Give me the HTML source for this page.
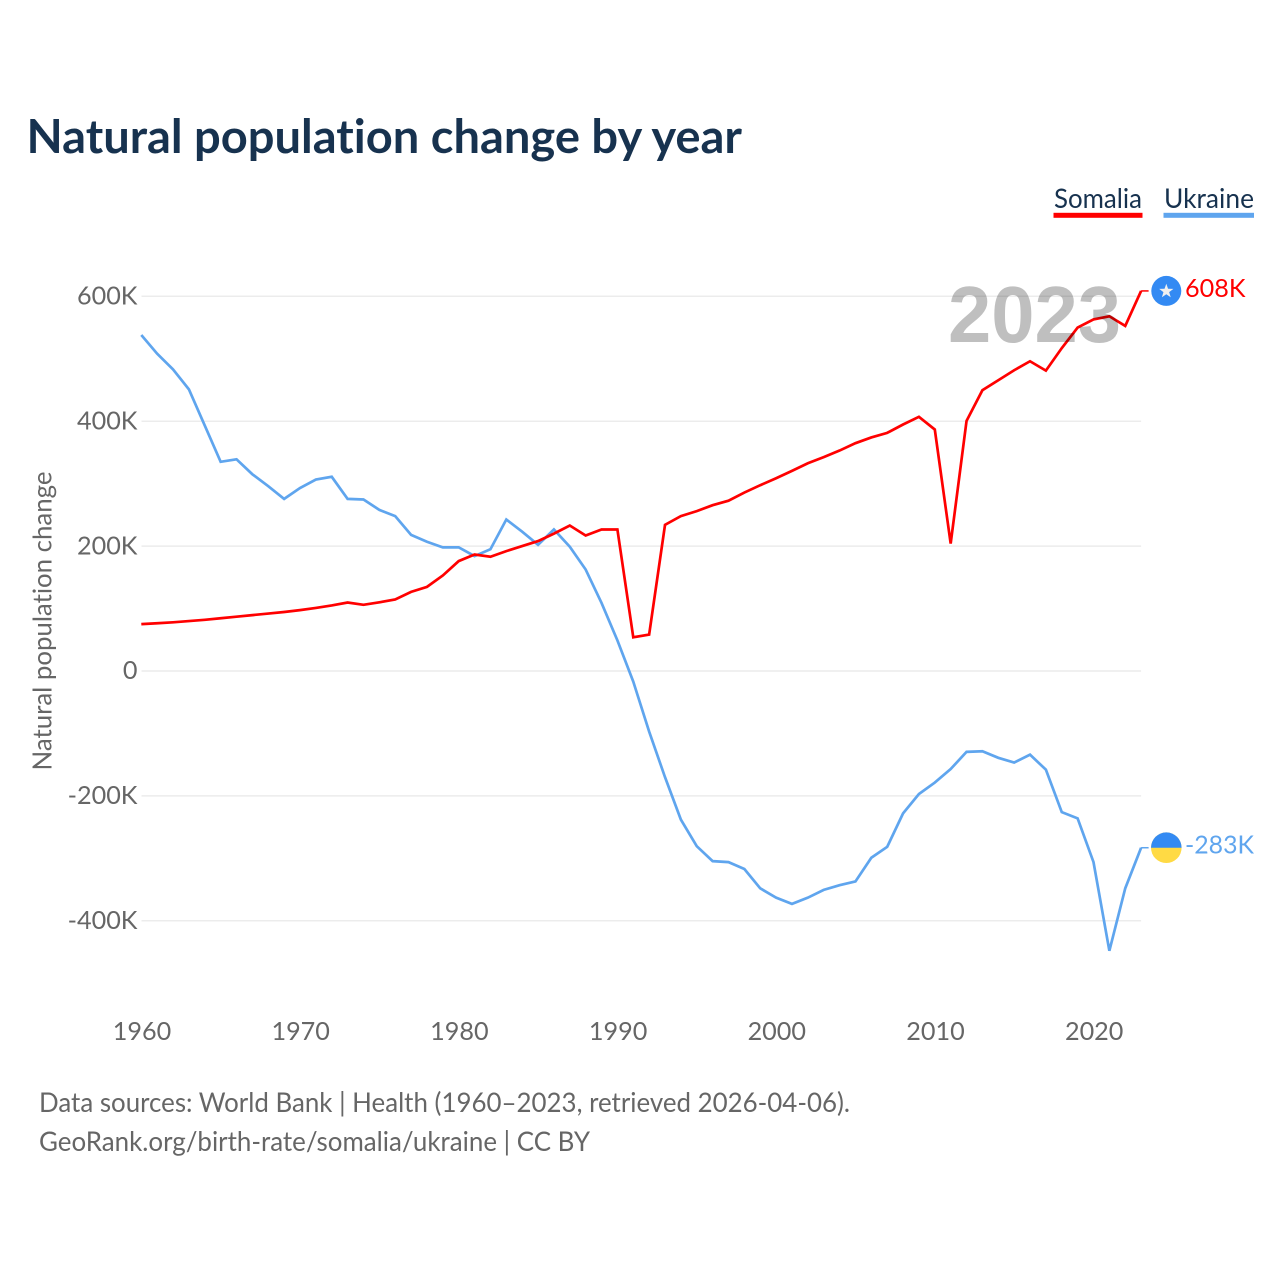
<!DOCTYPE html>
<html lang="en">
<head>
<meta charset="utf-8">
<title>Natural population change by year</title>
<style>
html,body{margin:0;padding:0;background:#fff;width:1280px;height:1280px;overflow:hidden}
svg{display:block}
text{font-family:"Lato","Carlito","Liberation Sans",sans-serif;font-variant-ligatures:none}
</style>
</head>
<body>
<svg id="chart" xmlns="http://www.w3.org/2000/svg" width="1280" height="1280" viewBox="0 0 1280 1280">
  <rect x="0" y="0" width="1280" height="1280" fill="#fff"/>
  <text x="26.5" y="153" font-size="47" font-weight="700" fill="#17324f" textLength="715.5" lengthAdjust="spacingAndGlyphs">Natural population change by year</text>
  <g>
    <g>
      <text x="1054" y="208" font-size="27.5" fill="#17324f" textLength="88" lengthAdjust="spacingAndGlyphs">Somalia</text>
      <rect x="1053.5" y="212.8" width="89" height="5" fill="#ff0000"/>
    </g>
    <g>
      <text x="1164" y="208" font-size="27.5" fill="#17324f" textLength="90" lengthAdjust="spacingAndGlyphs">Ukraine</text>
      <rect x="1163.5" y="212.8" width="90.5" height="5" fill="#5fa5ee"/>
    </g>
  </g>
  <g id="grid"></g>
  <g id="yticks"></g>
  <g id="xticks"></g>
  <text transform="translate(51.5 621) rotate(-90)" text-anchor="middle" font-size="26" fill="#666" textLength="299" lengthAdjust="spacingAndGlyphs">Natural population change</text>
  <g id="series"></g>
  <text x="948" y="342" font-size="80" font-weight="700" style="font-family:'Liberation Sans',sans-serif" fill="#000" fill-opacity="0.25" textLength="173" lengthAdjust="spacingAndGlyphs">2023</text>
  <g id="ends"></g>
  <text x="39" y="1112" font-size="27" fill="#666" textLength="811" lengthAdjust="spacingAndGlyphs">Data sources: World Bank | Health (1960–2023, retrieved 2026-04-06).</text>
  <text x="39" y="1151" font-size="27" fill="#666" textLength="551" lengthAdjust="spacingAndGlyphs">GeoRank.org/birth-rate/somalia/ukraine | CC BY</text>
</svg>
<script>
const firstYear = 1960;
const xTickYears = [1960, 1970, 1980, 1990, 2000, 2010, 2020];
const yTickValues = [600, 400, 200, 0, -200, -400];
const yTickLabels = ["600K", "400K", "200K", "0", "-200K", "-400K"];
const somaliaValues = [75, 76.5, 78, 80, 82, 84.5, 87, 89.5, 92, 94.5, 97.5, 101, 105, 109.7, 106, 110, 114.5, 126.7, 134.7, 153, 176, 186.5, 183, 192, 200, 208, 220, 233, 217, 226.6, 226.6, 54, 58.4, 234, 248, 256, 265.5, 272.7, 285.7, 297.5, 308.6, 320.5, 332.7, 342.4, 353, 364.8, 374, 381.3, 394.7, 407, 386.7, 204, 400.5, 449.6, 465.6, 481.6, 496, 481, 517, 550, 563, 568, 552.6, 608.6];
const ukraineValues = [538, 508, 483, 451, 393, 335, 339, 315, 296, 275.6, 293, 306.6, 311, 275.6, 274.6, 258, 248, 218, 207, 198, 198, 184, 195, 242.6, 223, 202, 226.6, 199, 162.5, 109, 49, -17, -97, -170, -238, -280.5, -304.5, -306, -317, -348, -363, -373, -363, -350.5, -343, -337, -299, -281.6, -228, -197, -178.6, -157, -129.5, -128.5, -139, -146.6, -134, -158, -226, -236, -306, -448, -348, -283];
const somaliaEndLabel = "608K";
const ukraineEndLabel = "-283K";

const NS = "http://www.w3.org/2000/svg";
function xScale(year) { return 141.3 + (year - 1960) * 15.87; }
function yScale(v) { return 671 - v * 0.6245; }
function make(tag, attrs, parent, txt) {
  const el = document.createElementNS(NS, tag);
  for (const k in attrs) el.setAttribute(k, attrs[k]);
  if (txt !== undefined) el.textContent = txt;
  parent.appendChild(el);
  return el;
}

const grid = document.getElementById("grid");
const yticks = document.getElementById("yticks");
const xticks = document.getElementById("xticks");
const seriesG = document.getElementById("series");
const ends = document.getElementById("ends");
const lastX = xScale(firstYear + somaliaValues.length - 1);

yTickValues.forEach((v, i) => {
  const line = make("line", { x1: 141.5, x2: lastX, y1: yScale(v), y2: yScale(v), stroke: "#ececec", "stroke-width": 1.5 }, grid);
  
  
  const label = make("text", { x: 137.5, y: yScale(v) + 8.2, "text-anchor": "end", "font-size": 25.2, fill: "#666" }, yticks, yTickLabels[i]);
  
  
});

xTickYears.forEach((yr) => {
  const label = make("text", { x: xScale(yr) + 0.7, y: 1040, "text-anchor": "middle", "font-size": 25.2, fill: "#666" }, xticks, String(yr));
  
  
});

function toPath(values) {
  return values.map((v, i) => (i ? "L" : "M") + xScale(firstYear + i).toFixed(2) + " " + yScale(v).toFixed(2)).join(" ");
}

const ukraineLine = make("path", { d: toPath(ukraineValues), fill: "none", stroke: "#5fa5ee", "stroke-width": 2.7, "stroke-linejoin": "miter" }, seriesG);


const somaliaLine = make("path", { d: toPath(somaliaValues), fill: "none", stroke: "#ff0000", "stroke-width": 2.7, "stroke-linejoin": "miter" }, seriesG);



const somY = yScale(somaliaValues[somaliaValues.length - 1]);
const ukrY = yScale(ukraineValues[ukraineValues.length - 1]);

const somLead = make("line", { x1: lastX, x2: lastX + 7.5, y1: somY, y2: somY, stroke: "#ff0000", "stroke-width": 1.5 }, ends);


const ukrLead = make("line", { x1: lastX, x2: lastX + 7.5, y1: ukrY, y2: ukrY, stroke: "#5fa5ee", "stroke-width": 1.5 }, ends);



const cx = 1166.3;
const somFlag = make("g", {}, ends);


make("circle", { cx: cx, cy: somY, r: 15, fill: "#338af3" }, somFlag);
const R = 7.5, r = 3;
let star = "";
for (let i = 0; i < 10; i++) {
  const a = -Math.PI / 2 + i * Math.PI / 5;
  const q = i % 2 ? r : R;
  star += (i ? "L" : "M") + (cx + q * Math.cos(a)).toFixed(2) + " " + (somY + 0.3 + q * Math.sin(a)).toFixed(2) + " ";
}
make("path", { d: star + "Z", fill: "#f0f0f0" }, somFlag);

const ukrFlag = make("g", {}, ends);


make("circle", { cx: cx, cy: ukrY, r: 15.3, fill: "#ffda44" }, ukrFlag);
make("path", { d: `M${cx - 15.3} ${ukrY} A15.3 15.3 0 0 1 ${cx + 15.3} ${ukrY} Z`, fill: "#338af3" }, ukrFlag);

const somVal = make("text", { x: 1185, y: somY + 6, "font-size": 25.2, fill: "#ff0000", textLength: 60.5, lengthAdjust: "spacingAndGlyphs" }, ends, somaliaEndLabel);


const ukrVal = make("text", { x: 1185, y: ukrY + 6, "font-size": 25.2, fill: "#5fa5ee", textLength: 69, lengthAdjust: "spacingAndGlyphs" }, ends, ukraineEndLabel);


</script>
</body>
</html>
